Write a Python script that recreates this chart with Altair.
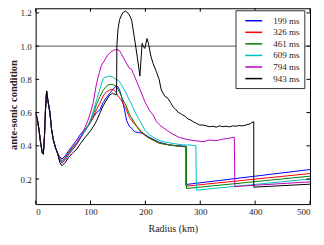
import altair as alt
import pandas as pd

labels = ["199 ms", "326 ms", "461 ms", "609 ms", "794 ms", "943 ms"]
colors = ["#0000ff", "#ff0000", "#008000", "#00bfbf", "#bf00bf", "#000000"]

x_ticks = [0, 100, 200, 300, 400, 500]
y_ticks = [0.2, 0.4, 0.6, 0.8, 1.0, 1.2]
ref_line = [1.0]

# shared inner part (radius km, value)
early = [(0, .60), (3, .56), (6, .50), (9, .42), (12, .36), (14, .35), (16, .45),
         (18, .62), (20, .73), (22, .68), (24, .64), (26, .60), (29, .50),
         (32, .44), (36, .39), (40, .355)]

s199 = [(44, .335), (48, .32), (54, .34), (60, .37), (67, .40), (75, .435), (82, .47),
        (90, .50), (95, .52), (100, .545), (106, .575), (111, .60), (117, .616),
        (123, .66), (129, .69), (135, .716), (141, .74), (147, .76), (150, .755),
        (153, .736), (157, .69), (162, .616), (166, .55), (171, .516), (175, .506),
        (180, .485), (187, .48), (196, .475), (205, .455), (214, .44), (226, .42),
        (244, .405), (260, .40), (274, .398), (274, .167), (500, .257)]

s326 = [(44, .325), (48, .31), (54, .33), (60, .36), (67, .39), (75, .42), (82, .455),
        (90, .49), (95, .515), (100, .54), (106, .58), (111, .62), (117, .656),
        (123, .70), (129, .725), (135, .736), (141, .74), (146, .725), (150, .70),
        (155, .68), (159, .656), (165, .62), (171, .57), (178, .54), (184, .516),
        (190, .49), (196, .47), (205, .45), (214, .435), (226, .415), (244, .405),
        (260, .398), (274, .395), (274, .157), (500, .233)]

s461 = [(44, .32), (48, .305), (54, .325), (60, .355), (67, .385), (75, .415), (82, .45),
        (90, .49), (95, .515), (100, .55), (106, .60), (111, .65), (117, .695),
        (123, .735), (128, .755), (132, .766), (137, .77), (141, .768), (146, .76),
        (150, .74), (155, .71), (159, .676), (165, .64), (171, .59), (177, .556),
        (184, .52), (190, .495), (196, .475), (205, .45), (214, .435), (226, .415),
        (244, .405), (260, .398), (275, .393), (275, .143), (500, .217)]

s609 = [(44, .315), (48, .30), (54, .32), (60, .35), (67, .38), (75, .41), (82, .445),
        (90, .49), (95, .52), (100, .555), (106, .62), (111, .676), (117, .74),
        (123, .806), (129, .815), (135, .82), (140, .815), (146, .80), (150, .796),
        (155, .775), (160, .745), (165, .716), (170, .68), (175, .65), (180, .61),
        (190, .55), (200, .49), (208, .465), (220, .44), (232, .425), (244, .418),
        (258, .41), (270, .405), (281, .405), (292, .40), (293, .133), (500, .20)]

s794 = [(44, .31), (48, .295), (54, .315), (60, .345), (67, .375), (75, .41), (82, .45),
        (90, .51), (95, .55), (100, .60), (105, .66), (111, .776), (116, .84),
        (120, .886), (126, .916), (131, .945), (137, .965), (142, .975), (147, .98),
        (152, .975), (156, .955), (160, .93), (165, .90), (170, .87), (175, .86),
        (180, .82), (185, .78), (190, .74), (195, .70), (199, .665), (204, .635),
        (208, .61), (214, .586), (220, .546), (226, .525), (232, .51), (241, .49),
        (250, .47), (262, .45), (274, .44), (281, .435), (293, .43), (305, .425),
        (317, .435), (329, .43), (340, .44), (352, .445), (358, .45), (362, .452),
        (363, .155), (500, .183)]

s943 = [(44, .30), (48, .28), (54, .30), (60, .33), (67, .355), (75, .38), (82, .415),
        (90, .45), (95, .47), (100, .49), (106, .52), (111, .55), (117, .596),
        (123, .64), (129, .675), (135, .706), (140, .716), (144, .71), (146.5, .706),
        (147.5, .72), (148, 1.0), (150, 1.10), (153, 1.16), (157, 1.19), (160, 1.205),
        (164, 1.21), (168, 1.20), (172, 1.18), (175, 1.156), (180, 1.05), (185, .94),
        (190, .82), (194, 1.016), (196, 1.0), (199, .986), (203, 1.046), (206, 1.01),
        (210, .94), (214, .896), (220, .846), (225, .80), (229, .736), (235, .70),
        (241, .686), (246, .66), (250, .636), (255, .62), (260, .60), (264, .595),
        (268, .586), (273, .575), (278, .56), (283, .555), (287, .545), (293, .535),
        (299, .525), (305, .525), (311, .52), (317, .515), (323, .518), (329, .512),
        (335, .52), (341, .515), (347, .518), (353, .514), (359, .52), (365, .518),
        (371, .522), (377, .52), (383, .525), (389, .53), (394, .54), (397.5, .545),
        (397.5, .151), (500, .169)]

series = [s199, s326, s461, s609, s794, s943]

rows = []
for lab, s in zip(labels, series):
    for i, (r, v) in enumerate(early + s):
        rows.append({"t": lab, "r": r, "v": v, "i": i})
df = pd.DataFrame(rows)

W, H = 275, 196.3
FONT = "Liberation Serif"
xs = alt.Scale(domain=[0, 500], nice=False, zero=False)
ys = alt.Scale(domain=[0.049, 1.228], nice=False, zero=False)

x_axis = alt.Axis(
    title="Radius (km)", values=x_ticks, ticks=False, domain=False, grid=False,
    labelFont=FONT, labelFontSize=9, labelPadding=3, labelColor="#222",
    titleFont=FONT, titleFontSize=10, titleFontWeight=400, titleColor="#222",
    titleX=W / 2, titleY=24, titleBaseline="middle")
y_axis = alt.Axis(
    title="ante-sonic condition", values=y_ticks, format=".1f", ticks=False,
    domain=False, grid=False, labelFont=FONT, labelFontSize=9, labelPadding=4.5,
    labelColor="#222", titleFont=FONT, titleFontSize=10.5, titleFontWeight="bold",
    titleColor="#222", titleX=-22, titleY=96.5, titleAngle=-90,
    titleAlign="center", titleBaseline="middle")

lines = alt.Chart(df).mark_line(strokeWidth=1, clip=True).encode(
    x=alt.X("r:Q", scale=xs, axis=x_axis),
    y=alt.Y("v:Q", scale=ys, axis=y_axis),
    color=alt.Color("t:N", scale=alt.Scale(domain=labels, range=colors), legend=alt.Legend(
        title=None, orient="none", legendX=200.3, legendY=2,
        symbolType="M-1.7,0H1.7", symbolSize=100, symbolStrokeWidth=1.5,
        labelFont=FONT, labelFontSize=9, labelColor="#222", labelOffset=13.6,
        rowPadding=0.6, padding=4.5, strokeColor="#333", fillColor="white",
        symbolOffset=7.8, cornerRadius=0)),
    order="i:Q",
)

hline = alt.Chart(pd.DataFrame({"v": ref_line})).mark_rule(
    color="#555", strokeWidth=1).encode(y=alt.Y("v:Q", scale=ys, axis=y_axis))

xt = pd.DataFrame({"r": x_ticks})
yt = pd.DataFrame({"v": y_ticks})
TL = 3.5
tb = alt.Chart(xt).mark_rule(color="black").encode(
    x=alt.X("r:Q", scale=xs, axis=x_axis), y=alt.value(H), y2=alt.value(H - TL))
tt = alt.Chart(xt).mark_rule(color="black").encode(
    x=alt.X("r:Q", scale=xs, axis=x_axis), y=alt.value(0), y2=alt.value(TL))
tl = alt.Chart(yt).mark_rule(color="black").encode(
    y=alt.Y("v:Q", scale=ys, axis=y_axis), x=alt.value(0), x2=alt.value(TL))
tr = alt.Chart(yt).mark_rule(color="black").encode(
    y=alt.Y("v:Q", scale=ys, axis=y_axis), x=alt.value(W), x2=alt.value(W - TL))

chart = alt.layer(hline, lines, tb, tt, tl, tr).properties(
    width=W, height=H,
    autosize=alt.AutoSizeParams(type="none"),
    padding={"left": 27.7, "top": 0, "right": 6, "bottom": 30},
    background="white",
).configure_view(stroke="black", strokeWidth=1)

chart.save("out.html", embed_options={"renderer": "svg", "actions": False})
